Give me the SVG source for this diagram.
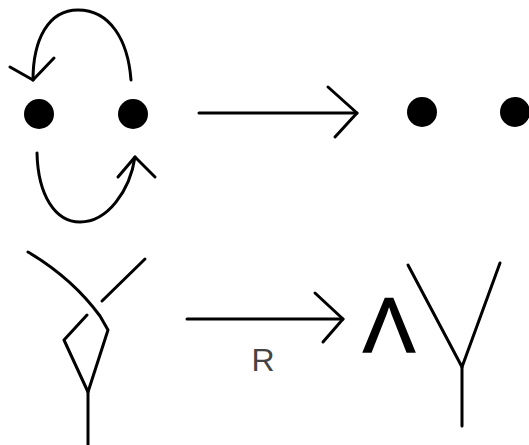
<svg xmlns="http://www.w3.org/2000/svg" width="529" height="445" viewBox="0 0 529 445">
<style>
.s{fill:none;stroke:#000;stroke-width:3;stroke-linecap:round;stroke-linejoin:round}
.d{fill:#000}
</style>
<rect width="529" height="445" fill="#fff"/>
<g id="dot-a"><circle class="d" cx="39" cy="114" r="15"/></g>
<g id="dot-b"><circle class="d" cx="133" cy="114" r="15"/></g>
<g id="dot-c"><circle class="d" cx="422" cy="112" r="15"/></g>
<g id="dot-d"><circle class="d" cx="515" cy="112" r="15"/></g>
<g id="knot">
<path class="s" d="M28 252 Q72 278 100 316 L108 330 L88 392 L64 340 L87 315"/>
<path class="s" d="M145 259 L102 301"/>
<path class="s" d="M88 392 L88 445"/>
</g>
<g id="lambda"><text x="389" y="352" font-family="Liberation Sans, Arial, sans-serif" font-size="78" stroke="#000" stroke-width="1.5" text-anchor="middle">Λ</text></g>
<g id="y-shape">
<path class="s" d="M408 265 L462 367 L500 263"/>
<path class="s" d="M462 367 L462 426"/>
</g>
<g id="connectors">
<path class="s" d="M131 80 C128 40 110 10 78 10 C48 10 33 40 33 80"/>
<path class="s" d="M10 67 L33 80 L54 58"/>
<path class="s" d="M37 153 C38 195 55 222 80 222 C108 222 130 190 135 157"/>
<path class="s" d="M118 177 L135 157 L155 177"/>
<path class="s" d="M199 113 L357 113"/>
<path class="s" d="M328 87 L357 113 L335 137"/>
<path class="s" d="M187 319 L343 319"/>
<path class="s" d="M315 293 L343 319 L323 342"/>
<text x="263" y="371" font-family="Liberation Sans, Arial, sans-serif" font-size="32" fill="#444" text-anchor="middle">R</text>
</g>
</svg>
